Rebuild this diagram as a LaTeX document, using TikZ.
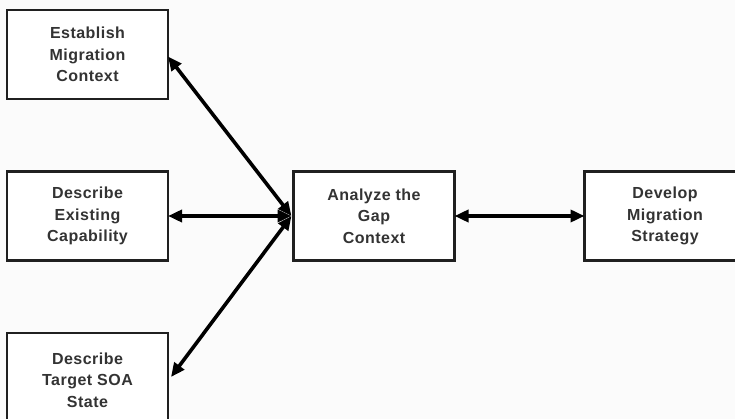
\documentclass[tikz,border=0pt]{standalone}
\usepackage{fontspec}
\newfontfamily\boxfont[LetterSpace=3]{Liberation Sans}
\usetikzlibrary{arrows.meta}
\definecolor{bgc}{HTML}{FBFBFB}
\definecolor{boxline}{HTML}{202020}
\definecolor{txt}{HTML}{333333}
\tikzset{
  stepbox/.style={draw=boxline, line width=2.4pt, fill=white, minimum width=161pt, minimum height=89pt,
    inner sep=0pt, outer sep=0pt, align=center, text=txt,
    font={\boxfont\bfseries\fontsize{16}{21.5}\selectfont}},
  conn/.style={line width=3.6pt, black, {Triangle[length=14pt,width=12pt]}-{Triangle[length=14pt,width=12pt]}}
}
\begin{document}
\begin{tikzpicture}[x=1pt,y=-1pt]
\useasboundingbox (0,0) rectangle (735,419);
\fill[bgc] (0,0) rectangle (735,419);
\node[stepbox] (b1) at (87.5,54.5) {Establish\\Migration\\Context};
\node[stepbox] (b2) at (87.5,216) {Describe\\Existing\\Capability};
\node[stepbox, minimum height=94pt] (b3) at (87.5,380) {Describe\\Target SOA\\State};
\node[stepbox] (b4) at (374,216) {Analyze the\\Gap\\Context};
\node[stepbox] (b5) at (665,216) {Develop\\Migration\\Strategy};
\coordinate (j) at ([xshift=-2pt]b4.west);
\coordinate (t1) at ([yshift=-2pt]b1.east);
\coordinate (t3) at ([xshift=3pt,yshift=3pt]b3.east);
\draw[conn] (j) -- (t1);
\draw[conn] (j) -- (b2.east);
\draw[conn] (j) -- (t3);
\draw[conn] (b4.east) -- (b5.west);
\end{tikzpicture}
\end{document}
